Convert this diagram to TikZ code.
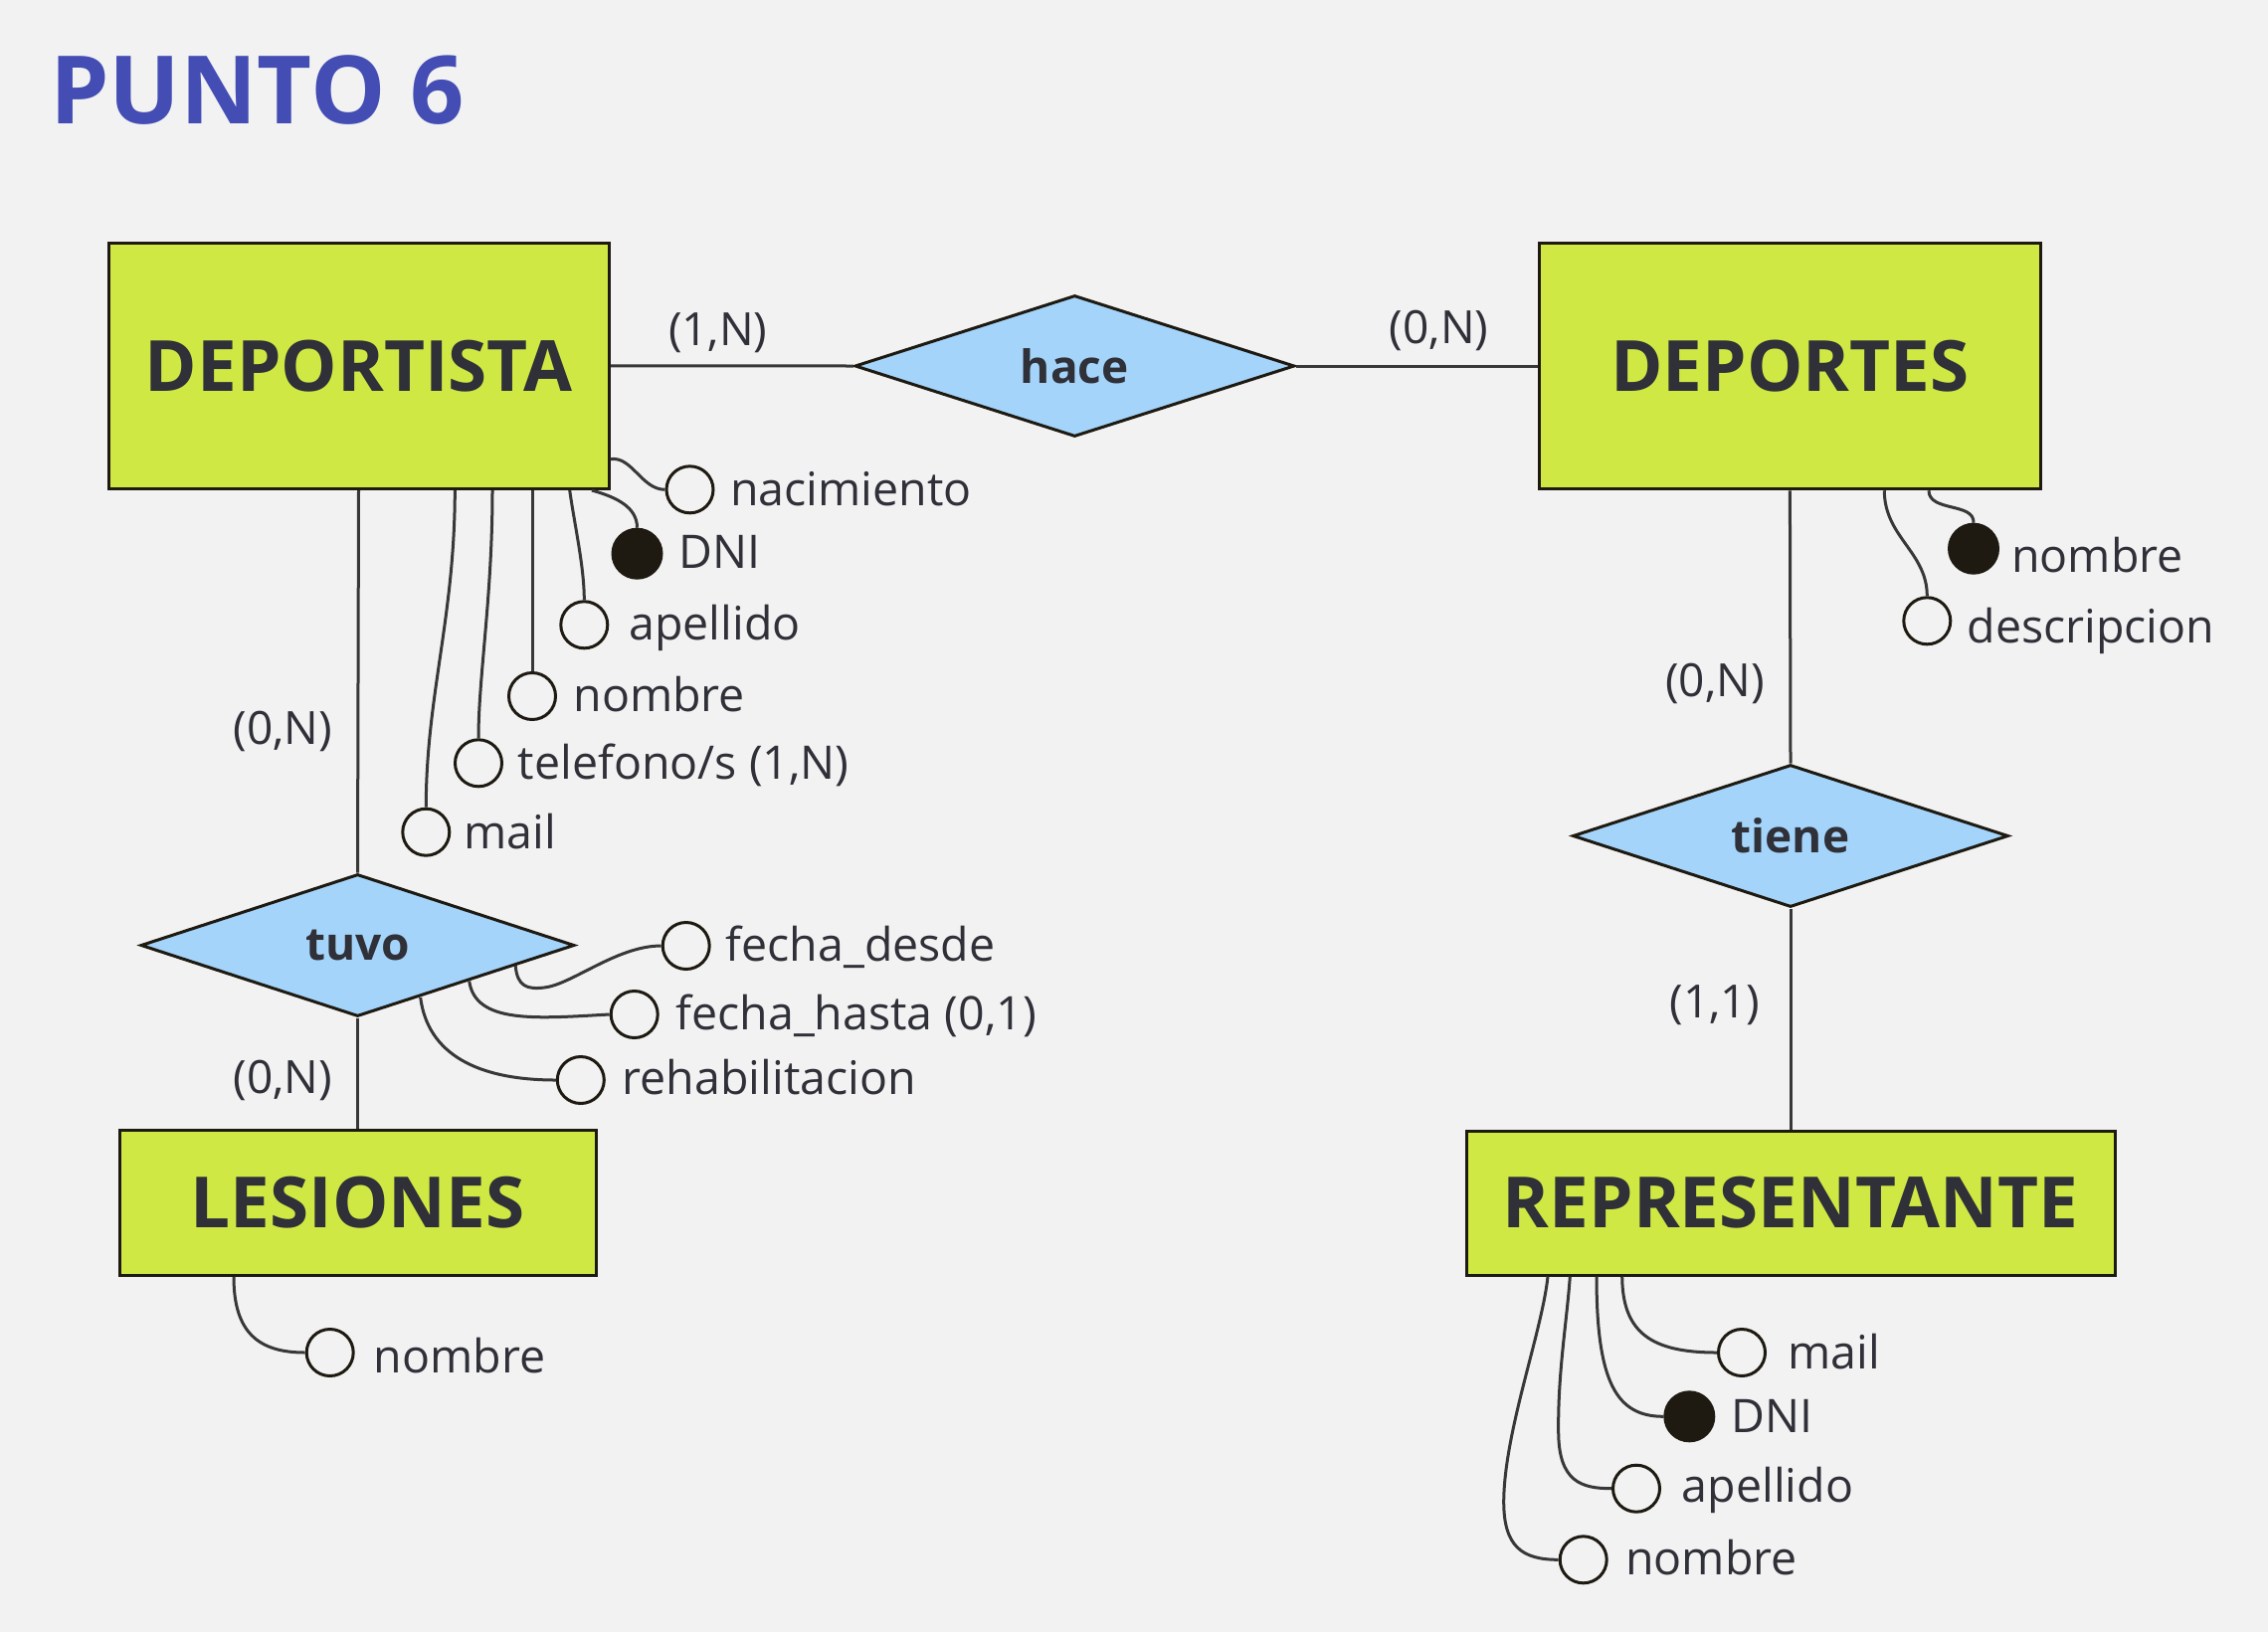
\documentclass[tikz,border=0pt]{standalone}
\usepackage{fontspec}
\setmainfont{Open Sans}
\usetikzlibrary{shapes.geometric}
\definecolor{bg}{HTML}{F2F2F2}
\definecolor{ent}{HTML}{CFE844}
\definecolor{rel}{HTML}{A4D4FA}
\definecolor{ink}{HTML}{2F3038}
\definecolor{edgec}{HTML}{1E1A12}
\definecolor{wire}{HTML}{383838}
\definecolor{titlec}{HTML}{434DB4}
\begin{document}
\begin{tikzpicture}[x=1pt,y=-1pt,
 entity/.style={draw=edgec, line width=3pt, fill=ent, inner sep=0, text=ink, font=\fontsize{71}{80}\selectfont\bfseries},
 relation/.style={diamond, draw=edgec, line width=3pt, fill=rel, inner sep=0, aspect=3, text=ink, font=\fontsize{46}{52}\selectfont\bfseries},
 attr/.style={circle, draw=edgec, line width=3pt, fill=bg, minimum size=47pt, inner sep=0},
 keyattr/.style={attr, fill=edgec, minimum size=49pt},
 lbl/.style={anchor=base west, inner sep=0, text=ink, font=\fontsize{46.5}{54}\selectfont},
 card/.style={anchor=base, inner sep=0, text=ink, font=\fontsize{46}{54}\selectfont},
 wirestyle/.style={draw=wire, line width=3pt},
]
\useasboundingbox (0,0) rectangle (2280,1641);
\fill[bg] (0,0) rectangle (2280,1641);

\node[anchor=base west, inner sep=0, text=titlec, font=\fontsize{95}{100}\selectfont\bfseries] (title) at (50,124) {PUNTO 6};

% entities
\node[entity, minimum width=503pt, minimum height=247.5pt] (dep) at (360.5,367.8) {DEPORTISTA};
\node[entity, minimum width=504pt, minimum height=247.5pt] (deps) at (1799.4,368) {DEPORTES};
\node[entity, minimum width=479pt, minimum height=146pt] (les) at (359.5,1209.5) {LESIONES};
\node[entity, minimum width=652pt, minimum height=145pt] (rep) at (1800,1209.5) {REPRESENTANTE};

% relations
\node[relation, minimum width=442pt, minimum height=142pt] (hace) at (1080.4,368) {hace};
\node[relation, minimum width=436pt, minimum height=143pt] (tuvo) at (359.5,950.5) {tuvo};
\node[relation, minimum width=438pt, minimum height=143pt] (tiene) at (1800,840.5) {tiene};

% relation connectors
\draw[wirestyle] (dep.east) -- (hace.west);
\draw[wirestyle] (hace.east) -- (deps.west);
\draw[wirestyle] (dep.south) -- (tuvo.north);
\draw[wirestyle] (tuvo.south) -- (les.north);
\draw[wirestyle] (deps.south) -- (tiene.north);
\draw[wirestyle] (tiene.south) -- (rep.north);

% cardinalities
\node[card] (c1) at (721.8,347) {(1,N)};
\node[card] (c2) at (1446.6,345) {(0,N)};
\node[card] (c3) at (284.2,748) {(0,N)};
\node[card] (c4) at (284.2,1099) {(0,N)};
\node[card] (c5) at (1724,700) {(0,N)};
\node[card] (c6) at (1724,1023) {(1,1)};

% DEPORTISTA attributes
\node[attr] (a1) at (693.5,492.3) {};
\node[keyattr] (a2) at (640.5,556.7) {};
\node[attr] (a3) at (587.3,628.3) {};
\node[attr] (a4) at (535,700) {};
\node[attr] (a5) at (481,767.3) {};
\node[attr] (a6) at (428.3,836.7) {};
\draw[wirestyle] (dep.east |- 0,461.7) .. controls (635,458) and (645,492.3) .. (a1.west);
\draw[wirestyle] (dep.south -| 595,0) .. controls (620,500) and (640.5,510) .. (a2.north);
\draw[wirestyle] (dep.south -| 572.7,0) .. controls (578,530) and (587.3,570) .. (a3.north);
\draw[wirestyle] (dep.south -| 535,0) -- (a4.north);
\draw[wirestyle] (dep.south -| 495,0) .. controls (495,600) and (481,680) .. (a5.north);
\draw[wirestyle] (dep.south -| 457.3,0) .. controls (457.3,620) and (428.3,700) .. (a6.north);
\node[lbl] (t1) at (734,508) {nacimiento};
\node[lbl] (t2) at (682,571.7) {DNI};
\node[lbl] (t3) at (632.3,643.3) {apellido};
\node[lbl] (t4) at (576.3,715) {nombre};
\node[lbl] (t5) at (520.7,783.3) {telefono/s (1,N)};
\node[lbl] (t6) at (466.3,853) {mail};

% tuvo attributes
\node[attr] (b1) at (689.7,951) {};
\node[attr] (b2) at (637.7,1020) {};
\node[attr] (b3) at (583.8,1086) {};
\coordinate (b1s) at (518.2,971);
\coordinate (b2s) at (471.7,986.5);
\coordinate (b3s) at (422.7,1003);
\draw[wirestyle] (b1s) .. controls (520,992) and (530,995) .. (547,993) .. controls (575,990) and (620,951) .. (b1.west);
\draw[wirestyle] (b2s) .. controls (478,1030) and (540,1024) .. (b2.west);
\draw[wirestyle] (b3s) .. controls (430,1060) and (480,1086) .. (b3.west);
\node[lbl] (u1) at (729.7,966.7) {fecha\_desde};
\node[lbl] (u2) at (679.5,1035) {fecha\_hasta (0,1)};
\node[lbl] (u3) at (625.6,1100) {rehabilitacion};

% DEPORTES attributes
\node[keyattr] (d1) at (1984,551.7) {};
\node[attr] (d2) at (1937.3,624.3) {};
\draw[wirestyle] (deps.south -| 1939,0) .. controls (1939,515) and (1985,505) .. (d1.north);
\draw[wirestyle] (deps.south -| 1894.3,0) .. controls (1894.3,540) and (1937.3,555) .. (d2.north);
\node[lbl] (e1) at (2022,575) {nombre};
\node[lbl] (e2) at (1977.3,646.7) {descripcion};

% REPRESENTANTE attributes
\node[attr] (r1) at (1751,1360) {};
\node[keyattr] (r2) at (1698.3,1424.3) {};
\node[attr] (r3) at (1645,1496.7) {};
\node[attr] (r4) at (1591.7,1568.3) {};
\draw[wirestyle] (rep.south -| 1630.7,0) .. controls (1631,1340) and (1660,1360) .. (r1.west);
\draw[wirestyle] (rep.south -| 1605,0) .. controls (1605,1390) and (1625,1424.3) .. (r2.west);
\draw[wirestyle] (rep.south -| 1578.3,0) .. controls (1575,1330) and (1566,1380) .. (1566.7,1440) .. controls (1567,1490) and (1590,1496.7) .. (r3.west);
\draw[wirestyle] (rep.south -| 1556,0) .. controls (1550,1340) and (1512,1440) .. (1511.7,1510) .. controls (1511.7,1555) and (1530,1568.3) .. (r4.west);
\node[lbl] (s1) at (1797.3,1376) {mail};
\node[lbl] (s2) at (1740.7,1440) {DNI};
\node[lbl] (s3) at (1690.7,1510) {apellido};
\node[lbl] (s4) at (1634,1583.3) {nombre};

% LESIONES attribute
\node[attr] (l1) at (331.7,1360) {};
\draw[wirestyle] (les.south -| 235,0) .. controls (235,1340) and (260,1360) .. (l1.west);
\node[lbl] (m1) at (375.7,1380) {nombre};
\end{tikzpicture}
\end{document}
